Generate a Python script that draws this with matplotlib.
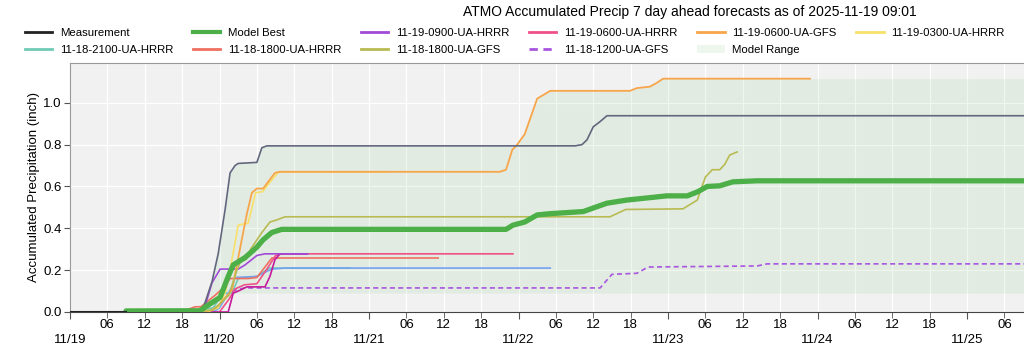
import matplotlib
matplotlib.use("Agg")
import matplotlib.pyplot as plt
from matplotlib.lines import Line2D
from matplotlib.patches import Patch
import numpy as np

plt.rcParams['font.family'] = ['Liberation Sans', 'DejaVu Sans']

# hours since 2025-11-19 00:00
END = 155.0

meas_h = [0, 9]
meas_v = [0.0, 0.0]

best_h = [9, 20.9, 21.7, 24.1, 25.4, 26.2, 28.1, 30.0, 31.0, 32.4, 34.0, 70.0, 71.1, 73.0, 75.0, 77.1,
          82.4, 84.0, 86.2, 89.4, 95.8, 99.1, 100.8, 102.3, 104.3, 106.4, 110.3, END]
best_v = [0.005, 0.006, 0.024, 0.07, 0.17, 0.225, 0.26, 0.31, 0.345, 0.38, 0.395, 0.395, 0.415, 0.43, 0.464, 0.47,
          0.48, 0.497, 0.52, 0.535, 0.555, 0.555, 0.575, 0.60, 0.603, 0.622, 0.627, 0.627]

slate_h = [12, 20.5, 21.4, 22.8, 23.8, 24.9, 25.7, 26.5, 27.0, 30.0, 30.8, 31.6, 81.1, 82.2, 83.0, 84.0, 85.1, 86.2, END]
slate_v = [0.0, 0.005, 0.02, 0.145, 0.28, 0.49, 0.665, 0.70, 0.71, 0.715, 0.785, 0.794, 0.794, 0.80, 0.823, 0.885, 0.91, 0.938, 0.938]

gfs0600_h = [21, 22.8, 23.8, 26.0, 27.8, 28.4, 29.2, 30.0, 31.0, 32.9, 33.7, 69.0, 70.0, 71.0, 71.8, 73.0, 75.0, 77.1,
             89.9, 91.0, 93.1, 94.2, 95.2, 118.8]
gfs0600_v = [0.0, 0.01, 0.03, 0.105, 0.38, 0.47, 0.57, 0.59, 0.59, 0.665, 0.67, 0.67, 0.68, 0.775, 0.80, 0.85, 1.02, 1.057,
             1.057, 1.07, 1.077, 1.095, 1.115, 1.115]

hrrr0300_h = [22, 23.8, 25.0, 26.0, 27.0, 28.6, 29.8, 30.9, 32.1, 33.5, 51]
hrrr0300_v = [0.0, 0.02, 0.10, 0.25, 0.415, 0.425, 0.57, 0.575, 0.62, 0.67, 0.67]

gfs1800_h = [20, 23.0, 25.5, 26.8, 27.5, 28.2, 29.0, 30.8, 32.1, 33.2, 34.5, 86.7, 89.2, 98.4, 100.7, 102.0, 103.1,
             104.3, 105.1, 105.9, 107.1]
gfs1800_v = [0.0, 0.01, 0.08, 0.20, 0.25, 0.25, 0.30, 0.38, 0.43, 0.44, 0.455, 0.455, 0.49, 0.493, 0.535, 0.645, 0.68,
             0.68, 0.705, 0.75, 0.765]

hrrr0900_h = [9, 21.0, 21.7, 22.8, 24.1, 27.0, 28.1, 30.0, 31.3, 38.2]
hrrr0900_v = [0.004, 0.005, 0.03, 0.14, 0.205, 0.205, 0.225, 0.27, 0.278, 0.278]

hrrr1800_h = [10, 18.5, 20.1, 21.0, 23.3, 24.6, 25.7, 28.6, 30.0, 31.3, 32.4, 59.1]
hrrr1800_v = [0.005, 0.008, 0.025, 0.025, 0.08, 0.115, 0.16, 0.16, 0.165, 0.215, 0.258, 0.258]

hrrr0600_h = [24, 25.5, 26.5, 28.0, 30.0, 31.5, 33.0, 34.0, 71.1]
hrrr0600_v = [0.0, 0.06, 0.11, 0.13, 0.135, 0.20, 0.27, 0.278, 0.278]

magenta_h = [22.5, 25.4, 26.2, 27.0, 28.4, 31.3, 32.1, 32.9, 33.7, 38.0]
magenta_v = [0.0, 0.0, 0.09, 0.10, 0.12, 0.12, 0.17, 0.25, 0.278, 0.278]

blue_h = [23.0, 24.0, 25.0, 26.0, 26.5, 30.0, 31.3, 32.4, 34.5, 77.1]
blue_v = [0.0, 0.02, 0.07, 0.12, 0.165, 0.17, 0.19, 0.205, 0.21, 0.21]

hrrr2100_h = [12, 20, 23, 24.5, 26, 27, 30, 32, 45]
hrrr2100_v = [0.0, 0.005, 0.02, 0.09, 0.09, 0.16, 0.17, 0.21, 0.21]

gfs1200_h = [26.0, 28.0, 85.1, 87.0, 91.0, 92.8, 110.3, 111.9, END]
gfs1200_v = [0.10, 0.115, 0.115, 0.18, 0.185, 0.215, 0.22, 0.23, 0.23]

range_h = [20, 21.4, 22.8, 23.8, 24.9, 25.5, 25.7, 26.5, 27.0, 30.0, 30.8, 31.6, 71.1, 71.8, 73.0, 75.0, 77.1,
           89.9, 91.0, 93.1, 94.2, 95.2, END]
range_lo = [0, 0, 0, 0, 0.05, 0.09, 0.09, 0.09, 0.09, 0.09, 0.09, 0.09, 0.09, 0.09, 0.09, 0.09, 0.09,
            0.09, 0.09, 0.09, 0.09, 0.09, 0.09]
range_hi = [0.02, 0.03, 0.145, 0.28, 0.49, 0.60, 0.665, 0.70, 0.71, 0.715, 0.785, 0.794, 0.794, 0.80, 0.85, 1.02, 1.057,
            1.057, 1.07, 1.077, 1.095, 1.115, 1.115]

date_labels = ['11/19', '11/20', '11/21', '11/22', '11/23', '11/24', '11/25']
hour_labels = ['06', '12', '18']
y_ticks = [0.0, 0.2, 0.4, 0.6, 0.8, 1.0]

TITLE = 'ATMO Accumulated Precip 7 day ahead forecasts as of 2025-11-19 09:01'

C_MEAS = '#222222'
C_BEST = '#4caf47'
C_0900 = '#a24ad8'
C_2100 = '#6fcbb5'
C_1800H = '#f07060'
C_1800G = '#b8bb52'
C_0600H = '#f0508a'
C_1200G = '#a855e0'
C_0600G = '#f7a54a'
C_0300 = '#f8e06a'
C_RANGE = '#4caf47'

fig = plt.figure(figsize=(10.24, 3.51), dpi=100)
ax = fig.add_axes([70/1024, 1-312/351, 1-70/1024, (312-63)/351])
ax.set_facecolor('#f1f1f1')

ax.fill_between(range_h, range_lo, range_hi, color=C_RANGE, alpha=0.09, lw=0, zorder=1)

ax.plot(hrrr2100_h, hrrr2100_v, color=C_2100, lw=1.2, zorder=3)
ax.plot(blue_h, blue_v, color='#74a2f2', lw=1.2, zorder=3)
ax.plot(gfs1200_h, gfs1200_v, color=C_1200G, lw=1.2, ls=(0, (3, 2)), zorder=3)
ax.plot(hrrr1800_h, hrrr1800_v, color=C_1800H, lw=1.2, zorder=3)
ax.plot(hrrr0600_h, hrrr0600_v, color=C_0600H, lw=1.2, zorder=3)
ax.plot(magenta_h, magenta_v, color='#c41a9a', lw=1.2, zorder=3)
ax.plot(hrrr0900_h, hrrr0900_v, color=C_0900, lw=1.2, zorder=3)
ax.plot(hrrr0300_h, hrrr0300_v, color=C_0300, lw=1.2, zorder=3)
ax.plot(gfs0600_h, gfs0600_v, color=C_0600G, lw=1.3, zorder=3)
ax.plot(slate_h, slate_v, color='#62677e', lw=1.2, zorder=3)
ax.plot(gfs1800_h, gfs1800_v, color=C_1800G, lw=1.2, zorder=3)
ax.plot(best_h, best_v, color=C_BEST, lw=3.8, zorder=4, solid_capstyle='round')
ax.plot(meas_h, meas_v, color=C_MEAS, lw=1.5, zorder=5)

ax.set_xticks([24*i for i in range(len(date_labels))])
ax.set_xticklabels(['\n' + d for d in date_labels], linespacing=1.15)
minor = []
minor_lab = []
for d in range(len(date_labels)):
    for j, hl in enumerate(hour_labels):
        minor.append(24*d + 6*(j+1))
        minor_lab.append(hl)
ax.set_xticks(minor, minor=True)
ax.set_xticklabels(minor_lab, minor=True)
ax.set_yticks(y_ticks)
ax.set_yticklabels([f'{v:.1f}' for v in y_ticks])
ax.set_xlim(0, (1024-70)/(149.5/24))
ax.set_ylim(0, 1.19)
ax.tick_params(axis='both', which='both', labelsize=9.5, color='#555555', length=4, pad=2)
ax.tick_params(axis='x', which='both', pad=1)
ax.tick_params(axis='x', which='major', length=5)

ax.grid(True, which='both', color='white', lw=0.9)
ax.set_axisbelow(True)
for s in ['top', 'left']:
    ax.spines[s].set_color('#999999')
ax.spines['right'].set_visible(False)
ax.spines['bottom'].set_color('#444444')

ax.set_ylabel('Accumulated Precipitation (inch)', fontsize=9.5, labelpad=2)

fig.text(690/1024, 1-12/351, TITLE, ha='center', va='center', fontsize=10)

handles = [
    Line2D([], [], color=C_MEAS, lw=2), Line2D([], [], color=C_2100, lw=2),
    Line2D([], [], color=C_BEST, lw=3), Line2D([], [], color=C_1800H, lw=2),
    Line2D([], [], color=C_0900, lw=2), Line2D([], [], color=C_1800G, lw=2),
    Line2D([], [], color=C_0600H, lw=2), Line2D([], [], color=C_1200G, lw=2, ls=(0, (3, 2))),
    Line2D([], [], color=C_0600G, lw=2), Patch(facecolor=C_RANGE, alpha=0.09, lw=0),
    Line2D([], [], color=C_0300, lw=2),
]
labels = ['Measurement', '11-18-2100-UA-HRRR', 'Model Best', '11-18-1800-UA-HRRR',
          '11-19-0900-UA-HRRR', '11-18-1800-UA-GFS', '11-19-0600-UA-HRRR', '11-18-1200-UA-GFS',
          '11-19-0600-UA-GFS', 'Model Range', '11-19-0300-UA-HRRR']
fig.legend(handles, labels, loc='upper left', bbox_to_anchor=(25/1024, 1-28/351), ncol=6, frameon=False,
           fontsize=8.2, handlelength=2.4, handletextpad=0.65, columnspacing=1.75, labelspacing=0.6,
           borderaxespad=0, borderpad=0)

fig.savefig('out.png', dpi=100)
